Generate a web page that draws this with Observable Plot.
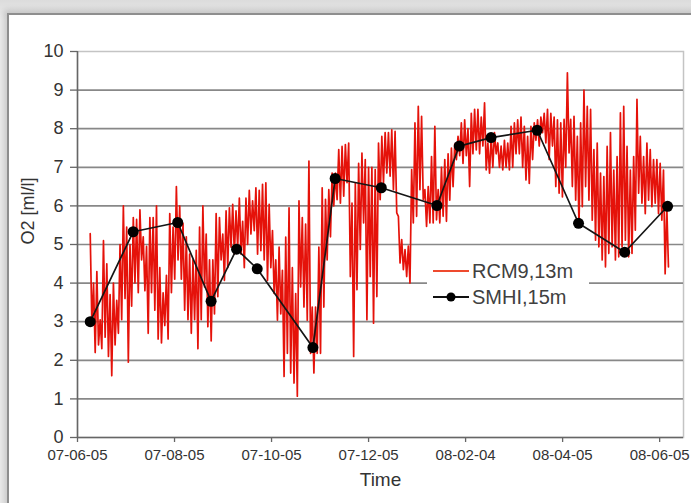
<!DOCTYPE html>
<html><head><meta charset="utf-8">
<script src="https://cdn.jsdelivr.net/npm/d3@7"></script>
<script src="https://cdn.jsdelivr.net/npm/@observablehq/plot@0.6"></script>
<style>
html,body{margin:0;padding:0}
body{width:691px;height:503px;overflow:hidden;position:relative;background:linear-gradient(#dcdcdc,#ececec 20px);font-family:"Liberation Sans",Arial,sans-serif}
#frame{position:absolute;left:7px;top:13px;width:720px;height:520px;background:#fff;border-left:2px solid #8e8e8e;border-top:2px solid #8e8e8e;box-shadow:-3px -3px 6px rgba(0,0,0,.15)}
#chart{position:absolute;left:0;top:0}
#legend{position:absolute;left:427px;top:252px;width:162px;height:62px;background:#fff;color:#404040;font-size:20px}
#legend .row{position:absolute;left:6px;display:flex;align-items:center;height:24px}
#legend svg{display:block;margin-right:3px}
</style></head>
<body>
<div id="frame"></div>
<div id="chart"></div>
<div id="legend">
  <div class="row" style="top:7px"><svg width="36" height="10"><line x1="0" x2="36" y1="5" y2="5" stroke="#ee4a2e" stroke-width="2"/></svg><span>RCM9,13m</span></div>
  <div class="row" style="top:33px"><svg width="36" height="12"><line x1="0" x2="36" y1="6" y2="6" stroke="#111" stroke-width="2"/><circle cx="18" cy="6" r="4.5" fill="#000"/></svg><span>SMHI,15m</span></div>
</div>
<script>
// X-axis tick labels (yy-mm-dd)
const xTickLabels = ["07-06-05","07-08-05","07-10-05","07-12-05","08-02-04","08-04-05","08-06-05"];
const yTicks = [0,1,2,3,4,5,6,7,8,9,10];

// SMHI, 15 m (ship samples)
const smhiDates = ["2007-06-13","2007-07-10","2007-08-07","2007-08-28","2007-09-13","2007-09-26",
  "2007-10-31","2007-11-14","2007-12-13","2008-01-17","2008-01-31","2008-02-20","2008-03-20",
  "2008-04-15","2008-05-14","2008-06-10"];
const smhiO2 = [3.0,5.33,5.57,3.53,4.88,4.37,2.33,6.71,6.47,6.01,7.55,7.77,7.96,5.55,4.8,5.99];

// RCM9, 13 m: moored sensor, one reading every 25 h starting 2007-06-13
const rcmStart = "2007-06-13";
const rcmStepHours = 25;
const rcmJunAug = [5.28,2.9, 4.0,2.2, 4.3,2.4, 3.05,2.3, 5.1,2.6, 4.5,2.1, 3.7,1.6, 4.0,2.4, 3.55,2.7, 5.0,3.05,
  6.0,3.6, 5.45,1.95, 5.0,3.4, 5.7,4.0, 5.65,3.75, 5.9,4.6, 5.2,3.8, 4.95,2.7, 5.7,3.75, 5.7,3.3,
  6.0,2.55, 4.4,2.45, 3.75,2.9, 4.2,2.55, 5.8,3.75, 5.45,4.1, 6.5,4.6, 6.0,4.1, 5.55,3.3, 5.2,3.05,
  4.75,2.7, 4.6,3.05, 4.85,2.3, 5.45,3.05, 6.0,3.9];
const rcmAugNov = [5.27,2.87, 4.6,2.5, 4.6,3.2, 5.8,3.65, 5.7,4.6, 5.27,4.07, 5.87,4.4, 5.95,4.93, 6.04,4.75, 5.87,4.93,
  6.2,4.75, 5.6,4.4, 6.2,5.0, 6.4,5.27, 6.13,5.36, 6.47,4.75, 6.4,4.84, 6.56,4.6, 6.6,4.07, 6.04,4.4,
  5.36,3.73, 4.6,3.04, 4.93,3.2, 4.33,1.58, 5.19,2.18, 5.95,1.67, 4.4,1.41, 3.73,1.07, 6.13,3.9, 5.7,3.38,
  5.53,3.04, 7.16,2.18, 3.38,1.67, 3.38,2.18, 4.93,2.18, 6.47,3.38];
const rcmNovJan = [6.17,4.6, 6.42,5.2, 6.85,6.0, 6.85,6.16, 7.46,6.07, 7.54,6.25, 7.59,6.6, 7.63,4.17, 6.07,2.1, 6.6,3.83,
  7.1,4.87, 7.37,5.56, 7.2,3.05, 7.0,4.17, 7.0,2.96, 6.94,3.65, 7.63,6.16, 7.8,6.6, 7.9,6.85, 7.9,6.77,
  7.97,6.42, 7.93,5.82, 5.73,4.52, 5.13,4.35, 4.87,4.17, 4.96,4.0, 6.94,5.56, 8.15,5.73, 8.58,6.42, 8.32,6.16,
  6.42,5.47, 6.5,5.56, 7.28,5.56, 8.06,5.64, 6.42,5.56, 7.0,5.73];
const rcmJanApr = [7.2,5.6, 7.35,6.15, 7.5,6.5, 7.6,7.2, 7.8,7.3, 8.15,7.1, 8.23,7.3, 8.0,6.5, 8.4,7.35, 8.5,7.45,
  8.5,7.35, 8.3,7.55, 8.67,6.93, 7.63,6.85, 7.8,7.0, 7.9,7.35, 7.63,7.0, 7.55,6.93, 7.7,7.0, 7.63,6.93,
  8.06,7.0, 8.15,7.35, 8.23,7.35, 8.3,7.0, 8.06,6.67, 7.8,6.58, 8.06,7.2, 8.15,7.7, 8.23,7.55, 8.3,7.9,
  8.4,7.63, 8.5,7.2, 8.4,7.55, 8.3,6.5, 8.23,6.33, 8.15,6.23];
const rcmAprJun = [8.24,7.0, 9.45,7.37, 8.24,6.5, 8.32,6.15, 7.8,5.46, 8.15,5.98, 9.0,6.5, 8.58,6.15, 8.5,5.63, 7.46,5.11,
  7.63,4.94, 6.85,4.6, 6.76,4.42, 7.54,4.77, 7.9,4.94, 6.93,4.6, 7.28,4.68, 8.41,4.94, 8.58,5.11, 7.54,4.68,
  6.93,4.77, 7.28,5.37, 8.76,6.33, 7.8,6.07, 7.28,5.8, 7.63,6.15, 7.46,5.98, 7.2,6.07, 7.2,5.8, 7.1,5.63,
  6.93,4.24, 5.98,4.42];

const parseTick = d3.utcParse("%y-%m-%d");
const xTicks = xTickLabels.map(parseTick);
const t0 = d3.utcParse("%Y-%m-%d")(rcmStart);
const rcmValues = [...rcmJunAug, ...rcmAugNov, ...rcmNovJan, ...rcmJanApr, ...rcmAprJun];
const rcm = rcmValues.map((v, i) => ({date: new Date(+t0 + i * rcmStepHours * 3600e3), o2: v}));
const smhi = smhiDates.map((d, i) => ({date: d3.utcParse("%Y-%m-%d")(d), o2: smhiO2[i]}));

const xStart = parseTick("07-06-05");
const xEnd = d3.utcDay.offset(parseTick("08-06-05"), 15);
const lineRed = "#e5120a";

const chart = Plot.plot({
  width: 691, height: 503,
  marginLeft: 77, marginRight: 8, marginTop: 51, marginBottom: 66,
  x: {type: "utc", domain: [xStart, xEnd]},
  y: {domain: [0, 10]},
  style: {fontFamily: "'Liberation Sans', Arial, sans-serif", background: "transparent", color: "#333", overflow: "visible"},
  marks: [
    Plot.frame({stroke: "#c4c4c4", strokeWidth: 1.5}),
    Plot.gridY(yTicks.filter(d => d > 0 && d < 10), {stroke: "#888", strokeOpacity: 1, strokeWidth: 1.7}),
    Plot.line(rcm, {x: "date", y: "o2", stroke: lineRed, strokeWidth: 1.7}),
    Plot.line(smhi, {x: "date", y: "o2", stroke: "#151515", strokeWidth: 1.7}),
    Plot.dot(smhi, {x: "date", y: "o2", r: 5.5, fill: "#000", stroke: "none"}),
    Plot.axisY(yTicks, {tickSize: 7, tickPadding: 7, fontSize: 18, label: null, stroke: "#666", strokeWidth: 1.3}),
    Plot.axisX(xTicks, {tickSize: 5, tickPadding: 7, fontSize: 15, tickFormat: d3.utcFormat("%y-%m-%d"), label: null, stroke: "#666", strokeWidth: 1.3}),
    Plot.ruleY([0], {stroke: "#666", strokeWidth: 1.5}),
    Plot.ruleX([xStart], {stroke: "#666", strokeWidth: 1.5}),
    Plot.text(["Time"], {frameAnchor: "bottom", dy: 48, fontSize: 19, fill: "#333"}),
    Plot.text(["O2 [ml/l]"], {frameAnchor: "left", dx: -49, rotate: -90, fontSize: 18, fill: "#333"})
  ]
});
document.getElementById("chart").appendChild(chart);
</script>
</body></html>
